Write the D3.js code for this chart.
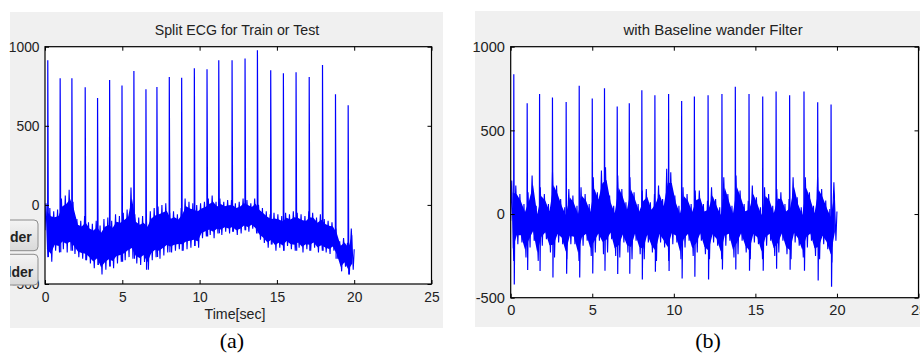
<!DOCTYPE html>
<html>
<head>
<meta charset="utf-8">
<script src="https://cdn.jsdelivr.net/npm/d3@7"></script>
<style>
  body { margin: 0; background: #fff; }
  svg { display: block; }
  text { font-family: "Liberation Sans", Arial, sans-serif; fill: #222; }
</style>
</head>
<body>
<svg id="chart" width="920" height="355"></svg>
<script>
// time in seconds, amplitude in raw ADC units
const xTicks = [0, 5, 10, 15, 20, 25];
const yTicks = [-500, 0, 500, 1000];
const binSec = 0.25;

// (a) split ECG: upper / lower reach of the trace in each 0.25 s bin
const rawHigh = [10, -20, -40, -30, 40, 60, 95, 20, -90, -100,
  -70, -110, -120, -100, -130, -90, -80, -100, -60, -70,
  -50, -30, 110, -60, -80, -70, -90, -40, -20, -10,
  0, 10, -50, -40, -60, -20, 40, 20, 10, 0,
  10, 20, 40, 60, 20, 40, 20, 30, 30, 10,
  20, 40, 30, 10, 40, 0, -20, -40, -60, -50,
  -60, -70, -50, -60, -40, -50, -60, -70, -40, -50,
  -80, -60, -90, -100, -110, -150, -230, -210, -240, -150];
const rawLow = [-330, -360, -290, -300, -280, -300, -290, -310, -330, -340,
  -350, -370, -400, -380, -440, -410, -390, -400, -370, -360,
  -350, -330, -340, -370, -380, -360, -410, -350, -330, -340,
  -320, -300, -300, -290, -280, -290, -280, -270, -260, -270,
  -210, -200, -190, -210, -180, -190, -170, -180, -170, -190,
  -180, -160, -170, -150, -180, -220, -240, -270, -250, -290,
  -270, -290, -260, -280, -290, -270, -300, -280, -290, -270,
  -300, -290, -300, -310, -290, -340, -420, -390, -440, -410];
const rawBeatTimes = [0.17, 0.97, 1.73, 2.59, 3.39, 4.17, 4.97, 5.74, 6.52, 7.23,
  8.03, 8.83, 9.65, 10.47, 11.23, 12.09, 12.93, 13.73, 14.59, 15.41,
  16.23, 17.08, 17.94, 18.78, 19.6];
const rawBeatPeaks = [914, 800, 800, 744, 676, 790, 754, 847, 731, 746,
  809, 803, 863, 857, 914, 914, 926, 977, 851, 832,
  838, 809, 884, 700, 630];

// (b) after the baseline wander filter
const filtHigh = [200, 170, 120, 60, 130, 230, 50, 160, 120, 60,
  250, 170, 90, 40, 150, 110, 50, 160, 120, 60,
  220, 130, 260, 280, 110, 50, 230, 150, 70, 220,
  130, 60, 140, 150, 70, 120, 170, 90, 270, 250,
  110, 50, 160, 120, 60, 140, 140, 60, 80, 160,
  90, 40, 220, 120, 50, 230, 140, 60, 80, 170,
  100, 40, 160, 120, 50, 150, 130, 60, 90, 220,
  100, 40, 220, 130, 50, 220, 150, 80, 30, 190];
const filtLow = [-280, -180, -170, -260, -200, -160, -280, -190, -150, -230,
  -260, -170, -180, -270, -180, -180, -280, -190, -160, -250,
  -230, -160, -240, -230, -150, -250, -260, -170, -230, -270,
  -160, -240, -270, -170, -230, -280, -170, -200, -280, -180,
  -170, -270, -200, -160, -250, -230, -160, -240, -270, -170,
  -190, -270, -190, -160, -260, -240, -160, -230, -270, -170,
  -180, -270, -190, -160, -250, -230, -160, -240, -270, -170,
  -190, -260, -200, -160, -250, -270, -180, -210, -290, -160];
const filtBeatTimes = [0.18, 1.0, 1.76, 2.55, 3.39, 4.19, 4.99, 5.74, 6.52, 7.26,
  8.03, 8.83, 9.67, 10.47, 11.25, 12.09, 12.94, 13.76, 14.6, 15.44,
  16.26, 17.09, 17.97, 18.81, 19.63];
const filtBeatPeaks = [836, 662, 718, 696, 670, 766, 690, 752, 642, 662,
  740, 710, 718, 676, 702, 710, 718, 760, 718, 702,
  732, 710, 732, 668, 654];
const filtBeatTroughs = [-421, -335, -341, -379, -357, -379, -355, -339, -359, -357,
  -391, -345, -341, -385, -375, -391, -331, -331, -339, -339,
  -327, -333, -339, -397, -435];

const svg = d3.select('#chart');

function drawPanel(opt) {
  const g = svg.append('g');

  g.append('rect')
    .attr('x', opt.bg[0]).attr('y', opt.bg[1])
    .attr('width', opt.bg[2]).attr('height', opt.bg[3])
    .attr('fill', '#f0f0f0');

  const x = d3.scaleLinear().domain([0, 25]).range([opt.left, opt.right]);
  const y = d3.scaleLinear().domain([-500, 1000]).range([opt.bottom, opt.top]);

  g.append('rect')
    .attr('x', opt.left).attr('y', opt.top)
    .attr('width', opt.right - opt.left).attr('height', opt.bottom - opt.top)
    .attr('fill', '#fff');

  g.append('clipPath').attr('id', opt.id + '-clip')
    .append('rect')
    .attr('x', opt.left).attr('y', opt.top)
    .attr('width', opt.right - opt.left).attr('height', opt.bottom - opt.top);

  const plot = g.append('g').attr('clip-path', `url(#${opt.id}-clip)`);
  const last = opt.high.length - 1;
  const bins = opt.high.map((h, i) => ({ t: i * binSec, hi: h, lo: opt.low[i], mid: (h + opt.low[i]) / 2 }));

  // dense core of the noisy trace (most of the swing is filled in)
  const coreShare = 0.7;
  const core = d3.area()
    .x(d => x(d.t + binSec / 2))
    .y0(d => y(d.mid + (d.lo - d.mid) * coreShare))
    .y1(d => y(d.mid + (d.hi - d.mid) * coreShare));
  plot.append('path')
    .attr('d', core(bins))
    .attr('fill', '#0000ff');

  // spiky swings out to the extremes
  const pts = [];
  bins.forEach(b => {
    pts.push([b.t, b.mid], [b.t + binSec / 4, b.hi], [b.t + binSec / 2, b.mid], [b.t + binSec * 3 / 4, b.lo]);
  });
  pts.push([20, bins[last].mid]);

  const line = d3.line().x(d => x(d[0])).y(d => y(d[1]));

  plot.append('path')
    .attr('d', line(pts))
    .attr('fill', 'none')
    .attr('stroke', '#0000ff')
    .attr('stroke-width', 1.1);

  // QRS spikes
  opt.beats.forEach((tb, i) => {
    const k = Math.min(Math.floor(tb / binSec), last);
    const spike = [[tb, bins[k].mid], [tb + 0.01, opt.peaks[i]]];
    if (opt.troughs) {
      spike.push([tb + 0.04, opt.troughs[i]], [tb + 0.07, bins[k].mid]);
    } else {
      spike.push([tb + 0.05, opt.low[k]]);
    }
    plot.append('path')
      .attr('d', line(spike))
      .attr('fill', 'none')
      .attr('stroke', '#0000ff')
      .attr('stroke-width', 1.2);
  });

  // axes: MATLAB style, ticks pointing inwards on all four sides
  const styleAxis = sel => {
    sel.select('.domain').remove();
    sel.attr('font-size', opt.tickFont)
      .attr('font-family', '"Liberation Sans", Arial, sans-serif');
    sel.selectAll('line').attr('stroke', '#000');
    sel.selectAll('text').style('fill', '#222');
  };
  const plain = d => String(d);

  g.append('g').attr('transform', `translate(0,${opt.bottom})`)
    .call(d3.axisBottom(x).tickValues(xTicks).tickFormat(plain).tickSizeInner(-4).tickSizeOuter(0).tickPadding(opt.padX))
    .call(styleAxis);
  g.append('g').attr('transform', `translate(0,${opt.top})`)
    .call(d3.axisTop(x).tickValues(xTicks).tickSizeInner(-4).tickSizeOuter(0).tickFormat(() => ''))
    .call(styleAxis);
  g.append('g').attr('transform', `translate(${opt.left},0)`)
    .call(d3.axisLeft(y).tickValues(yTicks).tickFormat(plain).tickSizeInner(-4).tickSizeOuter(0).tickPadding(opt.padY))
    .call(styleAxis);
  g.append('g').attr('transform', `translate(${opt.right},0)`)
    .call(d3.axisRight(y).tickValues(yTicks).tickSizeInner(-4).tickSizeOuter(0).tickFormat(() => ''))
    .call(styleAxis);

  g.append('rect')
    .attr('x', opt.left).attr('y', opt.top)
    .attr('width', opt.right - opt.left).attr('height', opt.bottom - opt.top)
    .attr('fill', 'none')
    .attr('stroke', '#000')
    .attr('stroke-width', 1.2);

  g.append('text')
    .attr('x', opt.titleX).attr('y', opt.titleY)
    .attr('text-anchor', 'middle')
    .attr('font-size', opt.titleFont)
    .text(opt.title);

  if (opt.xLabel) {
    g.append('text')
      .attr('x', opt.xLabelX).attr('y', opt.xLabelY)
      .attr('text-anchor', 'middle')
      .attr('font-size', opt.titleFont)
      .text(opt.xLabel);
  }

  svg.append('text')
    .attr('x', opt.tagX).attr('y', 348)
    .attr('text-anchor', 'middle')
    .attr('font-size', 22)
    .style('font-family', '"Liberation Serif", "Times New Roman", serif')
    .style('fill', '#000')
    .text(opt.tag);
}

drawPanel({
  id: 'raw', bg: [10, 12, 433, 316],
  left: 45, right: 431.5, top: 46.7, bottom: 284,
  high: rawHigh, low: rawLow, beats: rawBeatTimes, peaks: rawBeatPeaks,
  tickFont: 13.8, padX: 7.8, padY: 5.5,
  title: 'Split ECG for Train or Test', titleX: 237, titleY: 35, titleFont: 14.2,
  xLabel: 'Time[sec]', xLabelX: 235, xLabelY: 319,
  tag: '(a)', tagX: 232
});

drawPanel({
  id: 'filt', bg: [475, 11, 445, 316],
  left: 510.7, right: 918.5, top: 46.7, bottom: 297.7,
  high: filtHigh, low: filtLow, beats: filtBeatTimes, peaks: filtBeatPeaks, troughs: filtBeatTroughs,
  tickFont: 14.6, padX: 7.4, padY: 5.8,
  title: 'with Baseline wander Filter', titleX: 713, titleY: 34.5, titleFont: 15,
  tag: '(b)', tagX: 708
});

// GUI buttons of the original window, cut off at the figure edge
const defs = svg.append('defs');
const grad = defs.append('linearGradient').attr('id', 'btnGrad')
  .attr('x1', 0).attr('y1', 0).attr('x2', 0).attr('y2', 1);
grad.append('stop').attr('offset', '0%').attr('stop-color', '#f4f4f4');
grad.append('stop').attr('offset', '100%').attr('stop-color', '#d9d9d9');
defs.append('clipPath').attr('id', 'btnClip')
  .append('rect').attr('x', 10).attr('y', 0).attr('width', 40).attr('height', 355);

const buttons = svg.append('g').attr('clip-path', 'url(#btnClip)');
[[220, 'der', 31.7, 241.7], [254.3, 'lder', 33.3, 276.7]].forEach(([top, label, tx, ty]) => {
  buttons.append('rect')
    .attr('x', -12).attr('y', top).attr('width', 50).attr('height', 30.7)
    .attr('rx', 4)
    .attr('fill', 'url(#btnGrad)')
    .attr('stroke', '#8c8c8c');
  buttons.append('text')
    .attr('x', tx).attr('y', ty)
    .attr('text-anchor', 'end')
    .attr('font-size', 14)
    .attr('font-weight', 'bold')
    .text(label);
});
</script>
</body>
</html>
